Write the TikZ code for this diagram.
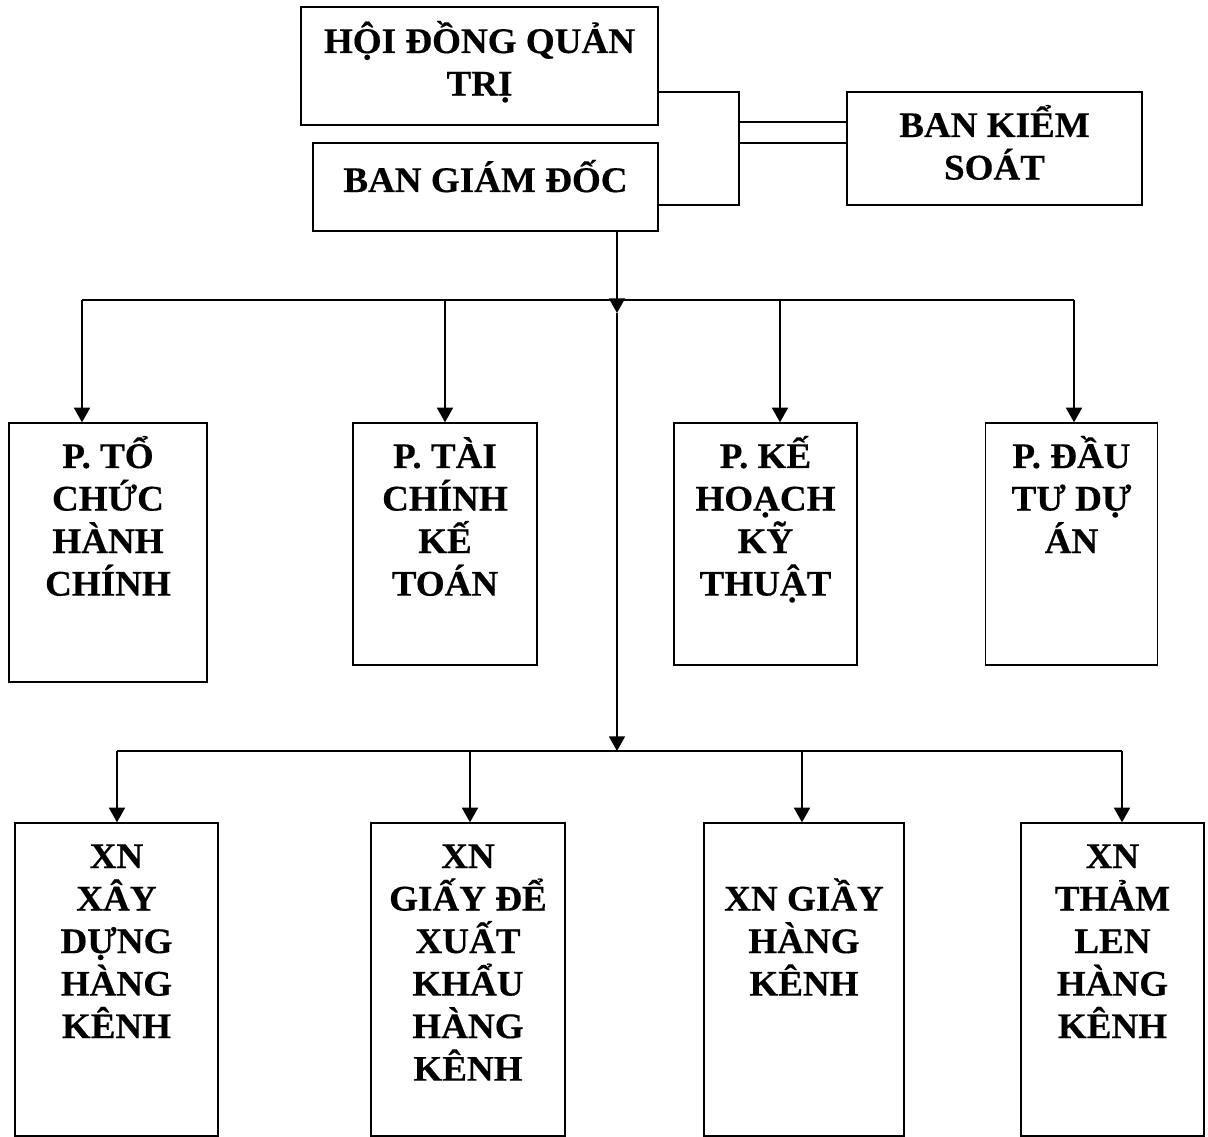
\documentclass[tikz,border=0pt]{standalone}
\usepackage{fontspec}
\newfontfamily\orgfam{Liberation Serif}[FakeStretch=1.03,FakeBold=0.4]
\usetikzlibrary{arrows.meta}
\newdimen\px \px=0.75pt
\newcommand\orgfont{\orgfam\bfseries\fontsize{27}{31.9}\selectfont}
% box text: width, height, first baseline, lines
\newcommand\orgtext[4]{\parbox[c][#2\px][t]{#1\px}{\centering\rule{0pt}{#3\px}#4}}

\begin{document}
\begin{tikzpicture}[x=0.75pt,y=-0.75pt,
    box/.style={draw,line width=1pt,inner sep=0pt,font=\orgfont},
    conn/.style={line width=1.3pt},
    arr/.style={conn,-{Triangle[width=12pt,length=11pt]}}]
    \useasboundingbox (0,0) rectangle (1208,1137);
    %% top level
    \node[box] (hdqt) at (479.5,66) {\orgtext{357}{118}{46}{HỘI ĐỒNG QUẢN\\TRỊ}};
    \node[box] (bgd) at (485.5,187) {\orgtext{345}{88}{49}{BAN GIÁM ĐỐC}};
    \node[box] (bks) at (994.5,148.5) {\orgtext{295}{113}{45}{BAN KIỂM\\SOÁT}};
    \coordinate (kq) at (739,92);
    \coordinate (kb) at (739,205);
    \coordinate (ks1) at (739,122);
    \coordinate (ks2) at (739,143);
    \draw[line width=1pt] (hdqt.east |- kq) -- (kq) -- (kb) -- (bgd.east |- kb);
    \draw[line width=1pt] (ks1) -- (ks1 -| bks.west);
    \draw[line width=1pt] (ks2) -- (ks2 -| bks.west);
    %% phong ban
    \node[box] (tchc) at (108,552.5) {\orgtext{198}{259}{45}{P. TỔ\\CHỨC\\HÀNH\\CHÍNH}};
    \node[box] (tckt) at (445,544) {\orgtext{184}{242}{45}{P. TÀI\\CHÍNH\\KẾ\\TOÁN}};
    \node[box] (khkt) at (765.5,544) {\orgtext{183}{242}{45}{P. KẾ\\HOẠCH\\KỸ\\THUẬT}};
    \node[box] (dtda) at (1071.5,544) {\orgtext{172}{242}{45}{P. ĐẦU\\TƯ DỰ\\ÁN}};
    %% xi nghiep
    \node[box] (xdhk) at (116.5,979.5) {\orgtext{203}{313}{45}{XN\\XÂY\\DỰNG\\HÀNG\\KÊNH}};
    \node[box] (gdxk) at (468,979.5) {\orgtext{194}{313}{45}{XN\\GIẤY ĐỂ\\XUẤT\\KHẨU\\HÀNG\\KÊNH}};
    \node[box] (ghk) at (804,979.5) {\orgtext{200}{313}{45}{\\XN GIẦY\\HÀNG\\KÊNH}};
    \node[box] (tlhk) at (1112.5,979.5) {\orgtext{183}{313}{45}{XN\\THẢM\\LEN\\HÀNG\\KÊNH}};
    % truc giua
    \coordinate (ctop) at (617,313);
    \coordinate (cbot) at (617,751);
    \draw[arr] (bgd.south -| ctop) -- (ctop);
    \draw[arr] (ctop) -- (cbot);
    % thanh ngang tren
    \coordinate (t1) at (82,300);
    \coordinate (t2) at (445,300);
    \coordinate (t3) at (780,300);
    \coordinate (t4) at (1074,300);
    \draw[conn] (t1) -- (t4);
    \draw[arr] (t1) -- (t1 |- tchc.north);
    \draw[arr] (t2) -- (t2 |- tckt.north);
    \draw[arr] (t3) -- (t3 |- khkt.north);
    \draw[arr] (t4) -- (t4 |- dtda.north);
    % thanh ngang duoi
    \coordinate (b1) at (117,751);
    \coordinate (b2) at (470,751);
    \coordinate (b3) at (802,751);
    \coordinate (b4) at (1122,751);
    \draw[conn] (b1) -- (b4);
    \draw[arr] (b1) -- (b1 |- xdhk.north);
    \draw[arr] (b2) -- (b2 |- gdxk.north);
    \draw[arr] (b3) -- (b3 |- ghk.north);
    \draw[arr] (b4) -- (b4 |- tlhk.north);
\end{tikzpicture}
\end{document}
